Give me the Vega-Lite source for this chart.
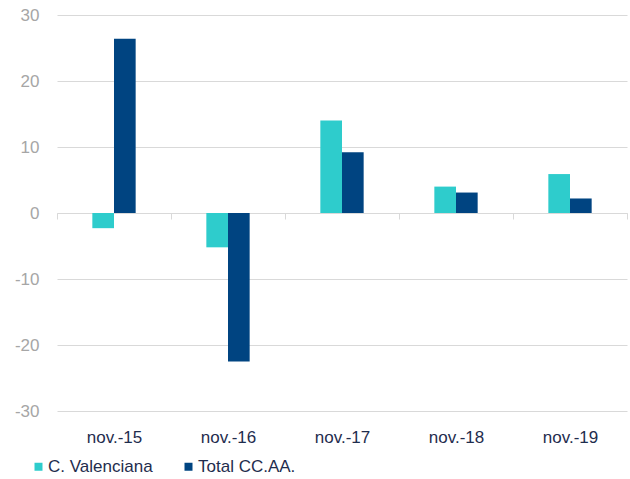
{
  "$schema": "https://vega.github.io/schema/vega-lite/v6.json",
  "width": 570,
  "height": 396,
  "autosize": {"type": "none"},
  "padding": {"left": 57, "top": 15, "right": 3, "bottom": 68},
  "config": {"view": {"stroke": null}, "font": "Liberation Sans"},
  "data": {
    "values": [
      {"mes": "nov.-15", "serie": "C. Valenciana", "valor": -2.3},
      {"mes": "nov.-15", "serie": "Total CC.AA.", "valor": 26.4},
      {"mes": "nov.-16", "serie": "C. Valenciana", "valor": -5.2},
      {"mes": "nov.-16", "serie": "Total CC.AA.", "valor": -22.5},
      {"mes": "nov.-17", "serie": "C. Valenciana", "valor": 14.0},
      {"mes": "nov.-17", "serie": "Total CC.AA.", "valor": 9.2},
      {"mes": "nov.-18", "serie": "C. Valenciana", "valor": 4.0},
      {"mes": "nov.-18", "serie": "Total CC.AA.", "valor": 3.1},
      {"mes": "nov.-19", "serie": "C. Valenciana", "valor": 5.9},
      {"mes": "nov.-19", "serie": "Total CC.AA.", "valor": 2.2}
    ]
  },
  "layer": [
    {
      "mark": {"type": "bar"},
      "encoding": {
        "x": {
          "field": "mes", "type": "nominal", "sort": null,
          "scale": {"paddingInner": 0.62, "paddingOuter": 0.31},
          "axis": null
        },
        "xOffset": {"field": "serie", "sort": null},
        "y": {
          "field": "valor", "type": "quantitative",
          "scale": {"domain": [-30, 30]},
          "axis": {"title": null, "values": [-30, -20, -10, 0, 10, 20, 30], "labelExpr": "replace(datum.label, '−', '-')", "domain": false, "ticks": false, "gridColor": "#D9D9D9", "labelColor": "#A6A6A6", "labelFontSize": 17, "labelPadding": 18}
        },
        "color": {
          "field": "serie", "type": "nominal", "sort": null,
          "scale": {"range": ["#2ECCCC", "#004481"]},
          "legend": {"orient": "none", "legendX": -27, "legendY": 443, "direction": "horizontal", "title": null, "symbolType": "square", "symbolSize": 64, "symbolStrokeWidth": 0, "labelFontSize": 17, "labelColor": "#1F2D4E", "columnPadding": 27, "labelOffset": 1}
        }
      }
    },
    {
      "mark": {"type": "rule", "opacity": 0},
      "encoding": {
        "x": {
          "field": "mes", "type": "nominal", "sort": null,
          "scale": {"paddingInner": 0, "paddingOuter": 0},
          "axis": {"title": null, "labelAngle": 0, "offset": -198, "domainColor": "#D9D9D9", "tickColor": "#D9D9D9", "tickBand": "extent", "tickSize": 6, "labelColor": "#1F2D4E", "labelFontSize": 17, "labelPadding": 210}
        },
        "y": {"datum": 0}
      }
    }
  ],
  "resolve": {"scale": {"x": "independent"}}
}
